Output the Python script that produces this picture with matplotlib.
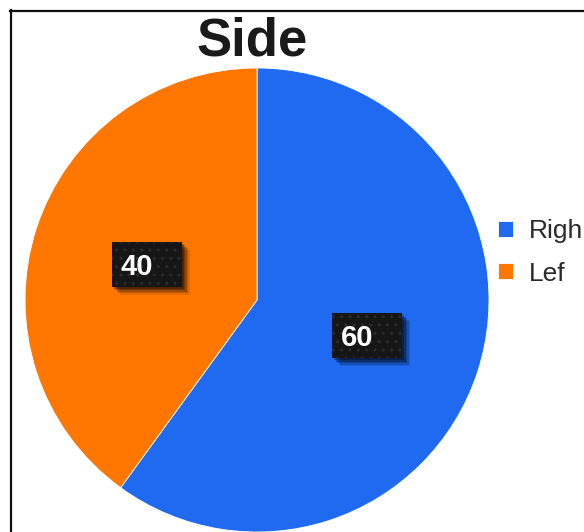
import matplotlib
matplotlib.use("Agg")
import matplotlib.pyplot as plt
import matplotlib.transforms as mtransforms
from matplotlib.patches import Rectangle
from matplotlib.lines import Line2D

title = "Side"
labels = ["Righ", "Lef"]
values = [60, 40]
colors = ["#1F6AF0", "#FF7700"]

W, H = 584, 532
fig = plt.figure(figsize=(W / 100, H / 100), dpi=100)
plt.rcParams['font.family'] = ['Liberation Sans', 'DejaVu Sans']

# frame border (top & left visible)
fig.add_artist(Line2D([10.5 / W, 10.5 / W], [0, 1 - 10 / H], transform=fig.transFigure, color="#111111", lw=1.6))
fig.add_artist(Line2D([10 / W, 1], [1 - 10.5 / H, 1 - 10.5 / H], transform=fig.transFigure, color="#111111", lw=1.6))

cx, cy, r = 257, 300, 232
ax = fig.add_axes([(cx - r) / W, (H - cy - r) / H, 2 * r / W, 2 * r / H])
total = sum(values)
wedges, texts, autotexts = ax.pie(values, colors=colors, startangle=90, counterclock=False,
                                  autopct=lambda p: f"{round(p * total / 100):d}", pctdistance=0.5,
                                  wedgeprops=dict(edgecolor="white", linewidth=0.6),
                                  textprops=dict(color="white", fontsize=21, weight="bold"))
ax.set_xlim(-1, 1)
ax.set_ylim(-1, 1)
ax.set_aspect("equal")

for t in autotexts:
    x, y = t.get_position()
    tr = fig.dpi_scale_trans + mtransforms.ScaledTranslation(x, y, ax.transData)
    # soft shadow layers
    for off, a in [(0.08, 0.10), (0.065, 0.15), (0.05, 0.2), (0.035, 0.25), (0.02, 0.3)]:
        sh = Rectangle((-0.35 + off, -0.225 - off), 0.70, 0.45, transform=tr,
                       facecolor="black", alpha=a, linewidth=0, zorder=2.5)
        ax.add_patch(sh)
    rect = Rectangle((-0.35, -0.225), 0.70, 0.45, transform=tr, facecolor="#161616",
                     edgecolor="#2c2c2c", hatch="..", linewidth=0, zorder=3)
    ax.add_patch(rect)
    t.set_transform(ax.transData + mtransforms.ScaledTranslation(-0.10, -0.025, fig.dpi_scale_trans))
    t.set_zorder(4)
    t.set_va("center")
    t.set_ha("center")

fig.text(252 / W, 1 - 42 / H, title, ha="center", va="center", fontsize=38, weight="bold", color="#1a1a1a")

leg = fig.legend(wedges, labels, loc="upper left", bbox_to_anchor=(485 / W, 1 - 206 / H),
                 frameon=False, fontsize=19, handlelength=0.55, handleheight=0.55, handletextpad=0.6,
                 labelspacing=0.7, borderpad=0, labelcolor="#2a2a2a")

fig.savefig("out.png", dpi=100)
